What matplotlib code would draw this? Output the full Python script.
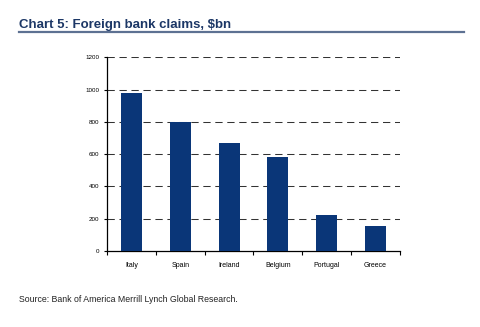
import numpy as np
import matplotlib.pyplot as plt

countries = ["Italy", "Spain", "Ireland", "Belgium", "Portugal", "Greece"]
claims = [980, 797, 669, 584, 225, 157]
yticks = [0, 200, 400, 600, 800, 1000, 1200]

navy = '#0a3678'

fig = plt.figure(figsize=(4.81, 3.27), dpi=100)
plt.rcParams['font.family'] = ['Liberation Sans', 'DejaVu Sans']

# title and rule underneath
fig.text(0.04, 0.925, "Chart 5: Foreign bank claims, $bn", fontsize=9.5,
         fontweight='bold', color='#1c3766', va='center', ha='left')
fig.add_artist(plt.Line2D([0.04, 0.965], [0.902, 0.902], color='#5d7192', lw=1.6))

ax = fig.add_axes([0.2225, 0.2324, 0.609, 0.5924])
x = np.arange(len(countries)) + 0.5
ax.bar(x, claims, width=0.43, color=navy, zorder=3)

ax.set_xlim(0, len(countries))
ax.set_ylim(0, 1200)
ax.set_yticks(yticks)
ax.set_yticklabels([str(v) for v in yticks])
ax.tick_params(axis='y', direction='out', length=2.5, width=0.8, labelsize=4.5, pad=3)

ax.set_xticks(np.arange(len(countries) + 1))
ax.set_xticklabels([])
ax.set_xticks(x, minor=True)
ax.set_xticklabels(countries, minor=True)
ax.tick_params(axis='x', which='major', direction='out', length=3, width=0.8)
ax.tick_params(axis='x', which='minor', length=0, labelsize=5, pad=8)

for v in yticks[1:]:
    ax.axhline(v, color='#333333', lw=0.75, ls=(0, (7, 4.5)), zorder=1)

for s in ['top', 'right']:
    ax.spines[s].set_visible(False)
for s in ['left', 'bottom']:
    ax.spines[s].set_linewidth(0.9)

fig.text(0.04, 0.083, "Source: Bank of America Merrill Lynch Global Research.",
         fontsize=6.3, color='#222222', va='center', ha='left')

fig.savefig('out.png', dpi=100)
